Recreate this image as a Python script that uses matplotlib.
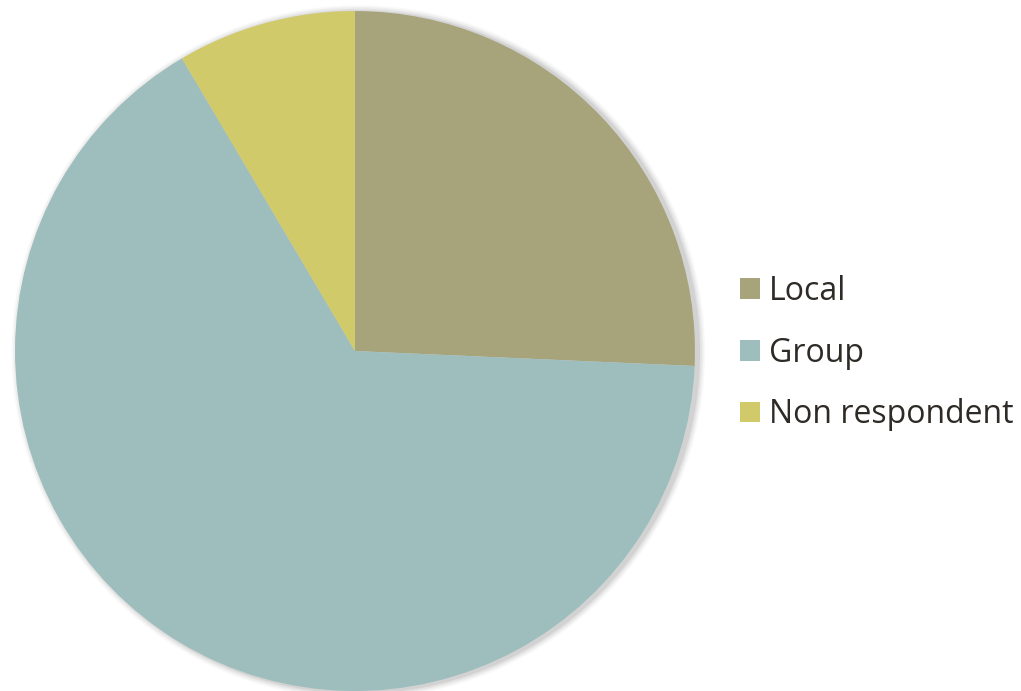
import matplotlib.pyplot as plt
from matplotlib.patches import Circle

labels = ["Local", "Group", "Non respondent"]
values = [25.7, 65.8, 8.5]
colors = ["#A7A47C", "#9EBDBD", "#D1CA6A"]

plt.rcParams['font.family'] = ['Open Sans', 'DejaVu Sans']

fig = plt.figure(figsize=(10.21, 6.91), dpi=100, facecolor='w')
ax = fig.add_axes([0.0147, 0.0, 0.666, 0.984])

# soft shadow behind the pie
for i, a in enumerate([0.04, 0.06, 0.08, 0.11]):
    r = 1.0 + 0.005 * (4 - i)
    ax.add_patch(Circle((0.01, -0.003), r, color='#555555', alpha=a, lw=0,
                        zorder=0, clip_on=False))

wedges, _ = ax.pie(values, colors=colors, startangle=90, counterclock=False,
                   radius=1.0, wedgeprops=dict(linewidth=0))
for w in wedges:
    w.set_zorder(2)

ax.set_xlim(-1, 1)
ax.set_ylim(-1, 1)
ax.set_aspect('equal')
ax.axis('off')

leg = fig.legend(wedges, labels, loc='center left', bbox_to_anchor=(0.7245, 0.489),
                 frameon=False, fontsize=23, handlelength=0.62, handleheight=0.62,
                 handletextpad=0.3, labelspacing=0.9, labelcolor='#2e2b26',
                 borderaxespad=0, borderpad=0)

fig.savefig('out.png', dpi=100)
